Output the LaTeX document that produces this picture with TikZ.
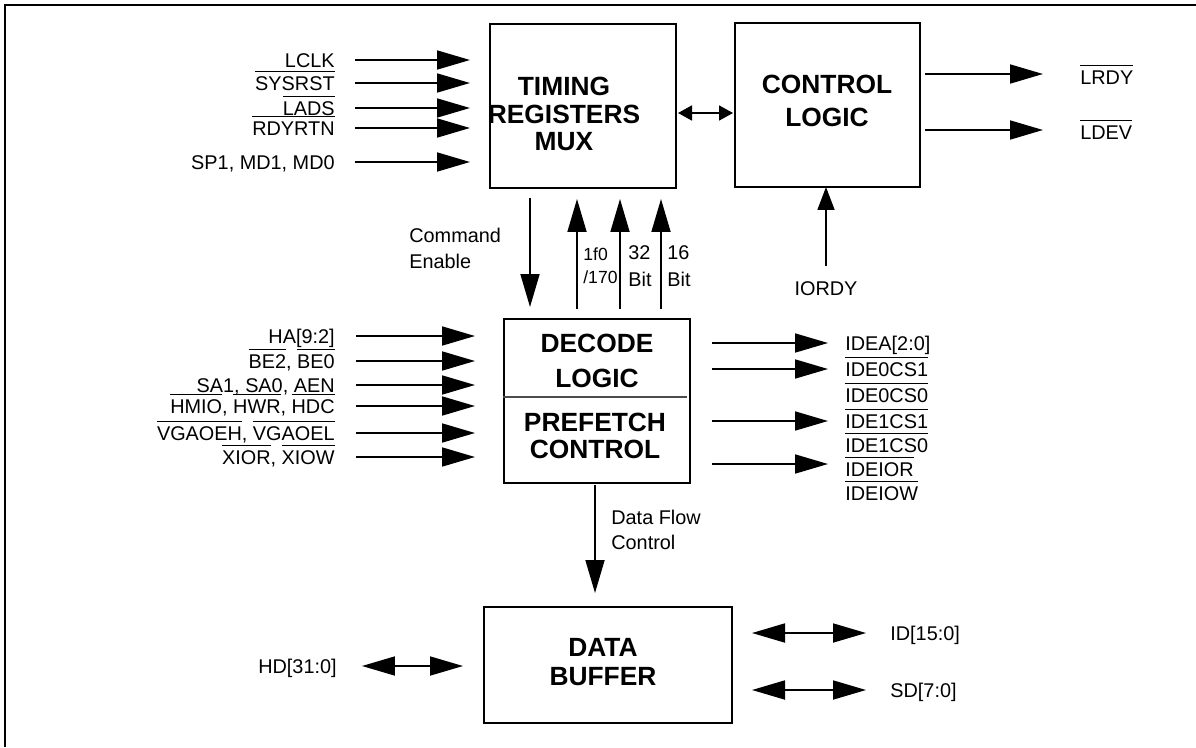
\documentclass[tikz,border=0pt]{standalone}
\usepackage{fontspec}
\setmainfont{Liberation Sans}
\usetikzlibrary{arrows.meta}
\newcommand\ovl[1]{\leavevmode\vbox{\hrule height 0.55pt\kern 2.6pt\hbox{#1}}}
\begin{document}
\begin{tikzpicture}[x=0.02cm,y=-0.02cm,
  lbl/.style={font=\fontsize{11.3}{13}\selectfont, inner sep=0pt, text height=8pt, text depth=0pt},
  slbl/.style={font=\fontsize{10}{12}\selectfont, inner sep=0pt, text height=7pt, text depth=0pt, anchor=west},
  ttl/.style={font=\bfseries\fontsize{15}{17}\selectfont, inner sep=0pt, align=center},
  box/.style={draw, line width=1pt, inner sep=0pt, anchor=north west},
  bigtip/.tip={Triangle[length=0.66cm,width=0.38cm]},
  sig/.style={line width=1pt, -bigtip},
  bisig/.style={line width=1pt, bigtip-bigtip},
  smallbi/.style={line width=1pt, {Triangle[length=0.28cm,width=0.3cm]}-{Triangle[length=0.28cm,width=0.3cm]}},
  midsig/.style={line width=1pt, -{Triangle[length=0.46cm,width=0.34cm]}}
]
\useasboundingbox (0,0) rectangle (1196,747);
% frame
\draw[line width=1.3pt] (5,747) -- (5,5) -- (1196,5);

% boxes
\node[box, minimum width=3.72cm, minimum height=3.28cm] (tim) at (489,23) {};
\node[box, minimum width=3.70cm, minimum height=3.28cm] (ctl) at (734,22) {};
\node[box, minimum width=3.72cm, minimum height=3.28cm] (dec) at (503,318) {};
\node[box, minimum width=4.96cm, minimum height=2.32cm] (buf) at (483,606) {};
\draw[line width=0.6pt, black!70] ([yshift=-1.58cm]dec.north west) -- ([yshift=-1.58cm, xshift=-0.08cm]dec.north east);

% titles
\node[ttl] (timt) at (564,114) {TIMING\\[-1.2pt]REGISTERS\\[-1.2pt]MUX};
\node[ttl] (ctlt) at (827,101) {CONTROL\\[1.5pt]LOGIC};
\node[ttl] (dect) at (597,361) {DECODE\\[2.5pt]LOGIC};
\node[ttl] (pret) at (595,436) {PREFETCH\\[-1.2pt]CONTROL};
\node[ttl] (buft) at (603,662) {DATA\\[0pt]BUFFER};

% top-left inputs
\foreach \y/\t [count=\i] in {60/LCLK, 83/\ovl{SYSRST}, 108/\ovl{LADS}, 128/\ovl{RDYRTN}, 162/{SP1, MD1, MD0}} {
  \coordinate (ts\i) at (355,\y);
  \coordinate (te\i) at (470,\y);
  \node[lbl, anchor=east] (tl\i) at (335,\y) {\t};
  \draw[sig] (ts\i) -- (te\i);
}

% bidirectional timing <-> control
\coordinate (b1) at (678,113);
\coordinate (b2) at (733,113);
\draw[smallbi] (b1) -- (b2);

% outputs LRDY, LDEV
\coordinate (rs1) at (925,74); \coordinate (re1) at (1043,74);
\coordinate (rs2) at (925,130); \coordinate (re2) at (1043,130);
\draw[sig] (rs1) -- (re1);
\draw[sig] (rs2) -- (re2);
\node[lbl, anchor=west] (lrdy) at (1080,77) {\ovl{LRDY}};
\node[lbl, anchor=west] (ldev) at (1080,132) {\ovl{LDEV}};

% IORDY
\coordinate (io1) at (826,266);
\coordinate (io2) at (826,187);
\draw[midsig] (io1) -- (io2);
\node[lbl] (iordy) at (826,288) {IORDY};

% command enable
\coordinate (ce1) at (530,198);
\coordinate (ce2) at (530,307);
\draw[sig] (ce1) -- (ce2);
\node[lbl, anchor=west] (cmd1) at (409,235) {Command};
\node[lbl, anchor=west] (cmd2) at (409,261) {Enable};

% up arrows
\foreach \x [count=\i] in {577,620,661} {
  \coordinate (us\i) at (\x,309);
  \coordinate (ue\i) at (\x,199);
  \draw[sig] (us\i) -- (ue\i);
}
\node[slbl] (u1a) at (583,254) {1f0};
\node[slbl] (u1b) at (583,277) {/170};
\node[lbl, anchor=west] (u2a) at (628,252) {32};
\node[lbl, anchor=west] (u2b) at (628,279) {Bit};
\node[lbl, anchor=west] (u3a) at (667,252) {16};
\node[lbl, anchor=west] (u3b) at (667,279) {Bit};

% lower-left inputs
\foreach \y/\t [count=\i] in {336/{HA[9:2]}, 361/{\ovl{BE2}, \ovl{BE0}}, 385/{SA1, SA0, AEN}, 406/{\ovl{HMIO}, \ovl{HWR}, \ovl{HDC}}, 433/{\ovl{VGAOEH}, \ovl{VGAOEL}}, 457/{\ovl{XIOR}, \ovl{XIOW}}} {
  \coordinate (ls\i) at (356,\y);
  \coordinate (le\i) at (475,\y);
  \node[lbl, anchor=east] (ll\i) at (335,\y) {\t};
  \draw[sig] (ls\i) -- (le\i);
}

% right outputs
\foreach \y [count=\i] in {343,369,421,464} {
  \coordinate (os\i) at (712,\y);
  \coordinate (oe\i) at (828,\y);
  \draw[sig] (os\i) -- (oe\i);
}
\foreach \y/\t [count=\i] in {343/{IDEA[2:0]}, 369/\ovl{IDE0CS1}, 395/\ovl{IDE0CS0}, 421/\ovl{IDE1CS1}, 445/\ovl{IDE1CS0}, 469/\ovl{IDEIOR}, 493/\ovl{IDEIOW}} {
  \node[lbl, anchor=west] (ol\i) at (845,\y) {\t};
}

% data flow
\coordinate (df1) at (595,485);
\coordinate (df2) at (595,593);
\draw[sig] (df1) -- (df2);
\node[lbl, anchor=west] (dfa) at (611,517) {Data Flow};
\node[lbl, anchor=west] (dfb) at (611,542) {Control};

% data buffer ports
\coordinate (hd1) at (362,666); \coordinate (hd2) at (463,666);
\draw[bisig] (hd1) -- (hd2);
\node[lbl, anchor=east] (hd) at (337,666) {HD[31:0]};
\coordinate (id1) at (752,633); \coordinate (id2) at (866,633);
\draw[bisig] (id1) -- (id2);
\node[lbl, anchor=west] (id) at (890,633) {ID[15:0]};
\coordinate (sd1) at (752,690); \coordinate (sd2) at (866,690);
\draw[bisig] (sd1) -- (sd2);
\node[lbl, anchor=west] (sd) at (890,690) {SD[7:0]};
\end{tikzpicture}
\end{document}
